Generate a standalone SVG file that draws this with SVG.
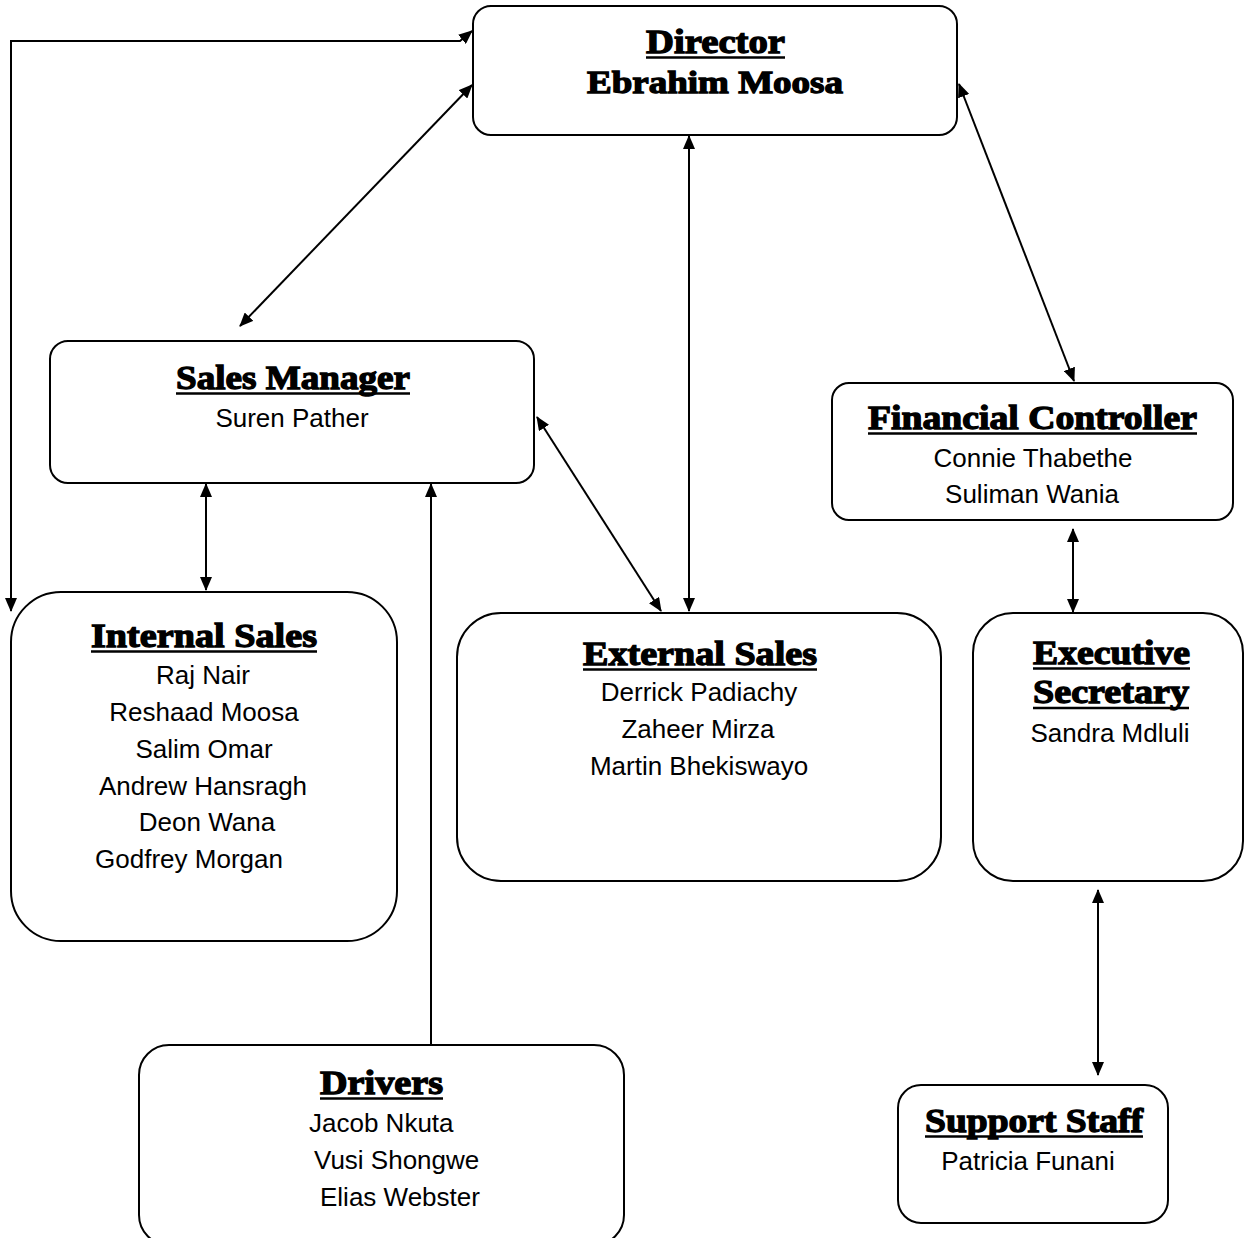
<svg xmlns="http://www.w3.org/2000/svg" width="1244" height="1238" viewBox="0 0 1244 1238">
<style>
.box{fill:#fff;stroke:#000;stroke-width:2}
.t{font-family:"Liberation Serif","Times New Roman",serif;font-weight:bold;font-size:34px;fill:#000;stroke:#000;stroke-width:1.3}
.n{font-family:"Liberation Sans",Arial,sans-serif;font-size:26px;fill:#000}
.u{stroke:#000;stroke-width:2.5}
.c{fill:none;stroke:#000;stroke-width:2}
</style>
<defs>
<marker id="ah" viewBox="0 0 14 12" refX="13" refY="6" markerWidth="14" markerHeight="12" markerUnits="userSpaceOnUse" orient="auto-start-reverse">
<path d="M0,0 L14,6 L0,12 Z" fill="#000"/>
</marker>
</defs>
<rect width="1244" height="1238" fill="#fff"/>
<g id="connectors">
<path class="c" d="M11,611 V41 H460 L472,31" marker-start="url(#ah)" marker-end="url(#ah)"/>
<line class="c" x1="472" y1="85" x2="240" y2="326" marker-start="url(#ah)" marker-end="url(#ah)"/>
<line class="c" x1="689" y1="136" x2="689" y2="611" marker-start="url(#ah)" marker-end="url(#ah)"/>
<line class="c" x1="959" y1="84" x2="1074" y2="381" marker-start="url(#ah)" marker-end="url(#ah)"/>
<line class="c" x1="206" y1="484" x2="206" y2="590" marker-start="url(#ah)" marker-end="url(#ah)"/>
<line class="c" x1="537" y1="417" x2="661" y2="611" marker-start="url(#ah)" marker-end="url(#ah)"/>
<line class="c" x1="431" y1="1045" x2="431" y2="484" marker-end="url(#ah)"/>
<line class="c" x1="1073" y1="529" x2="1073" y2="612" marker-start="url(#ah)" marker-end="url(#ah)"/>
<line class="c" x1="1098" y1="890" x2="1098" y2="1075" marker-start="url(#ah)" marker-end="url(#ah)"/>
</g>
<g id="director">
<rect class="box" x="473" y="6" width="484" height="129" rx="18"/>
<text class="t" x="646" y="53" textLength="139" lengthAdjust="spacingAndGlyphs">Director</text>
<line class="u" x1="646" y1="57.5" x2="785" y2="57.5"/>
<text class="t" x="587" y="93" style="font-size:32px" textLength="256" lengthAdjust="spacingAndGlyphs">Ebrahim Moosa</text>
</g>
<g id="sales-manager">
<rect class="box" x="50" y="341" width="484" height="142" rx="18"/>
<text class="t" x="176" y="389" textLength="234" lengthAdjust="spacingAndGlyphs">Sales Manager</text>
<line class="u" x1="176" y1="393.5" x2="410" y2="393.5"/>
<text class="n" x="292" y="427" text-anchor="middle">Suren Pather</text>
</g>
<g id="financial-controller">
<rect class="box" x="832" y="383" width="401" height="137" rx="17"/>
<text class="t" x="868" y="429" textLength="329" lengthAdjust="spacingAndGlyphs">Financial Controller</text>
<line class="u" x1="868" y1="433.5" x2="1197" y2="433.5"/>
<text class="n" x="1033" y="467" text-anchor="middle">Connie Thabethe</text>
<text class="n" x="1032" y="503" text-anchor="middle">Suliman Wania</text>
</g>
<g id="internal-sales">
<rect class="box" x="11" y="592" width="386" height="349" rx="50"/>
<text class="t" x="91" y="647" textLength="226" lengthAdjust="spacingAndGlyphs">Internal Sales</text>
<line class="u" x1="91" y1="651.5" x2="317" y2="651.5"/>
<text class="n" x="203" y="684" text-anchor="middle">Raj Nair</text>
<text class="n" x="204" y="721" text-anchor="middle">Reshaad Moosa</text>
<text class="n" x="204" y="758" text-anchor="middle">Salim Omar</text>
<text class="n" x="203" y="795" text-anchor="middle">Andrew Hansragh</text>
<text class="n" x="207" y="831" text-anchor="middle">Deon Wana</text>
<text class="n" x="189" y="868" text-anchor="middle">Godfrey Morgan</text>
</g>
<g id="external-sales">
<rect class="box" x="457" y="613" width="484" height="268" rx="44"/>
<text class="t" x="583" y="665" textLength="234" lengthAdjust="spacingAndGlyphs">External Sales</text>
<line class="u" x1="583" y1="669.5" x2="817" y2="669.5"/>
<text class="n" x="699" y="701" text-anchor="middle">Derrick Padiachy</text>
<text class="n" x="698" y="738" text-anchor="middle">Zaheer Mirza</text>
<text class="n" x="699" y="775" text-anchor="middle">Martin Bhekiswayo</text>
</g>
<g id="executive-secretary">
<rect class="box" x="973" y="613" width="270" height="268" rx="40"/>
<text class="t" x="1033" y="664" textLength="157" lengthAdjust="spacingAndGlyphs">Executive</text>
<line class="u" x1="1033" y1="668.5" x2="1190" y2="668.5"/>
<text class="t" x="1033" y="703" textLength="156" lengthAdjust="spacingAndGlyphs">Secretary</text>
<line class="u" x1="1033" y1="708" x2="1189" y2="708"/>
<text class="n" x="1110" y="742" text-anchor="middle">Sandra Mdluli</text>
</g>
<g id="drivers">
<rect class="box" x="139" y="1045" width="485" height="200" rx="30"/>
<text class="t" x="320" y="1094" textLength="123" lengthAdjust="spacingAndGlyphs">Drivers</text>
<line class="u" x1="320" y1="1098.5" x2="443" y2="1098.5"/>
<text class="n" x="309" y="1132">Jacob Nkuta</text>
<text class="n" x="314" y="1169">Vusi Shongwe</text>
<text class="n" x="320" y="1206">Elias Webster</text>
</g>
<g id="support-staff">
<rect class="box" x="898" y="1085" width="270" height="138" rx="23"/>
<text class="t" x="925" y="1132" textLength="218" lengthAdjust="spacingAndGlyphs">Support Staff</text>
<line class="u" x1="925" y1="1136.5" x2="1143" y2="1136.5"/>
<text class="n" x="1028" y="1170" text-anchor="middle">Patricia Funani</text>
</g>
</svg>
